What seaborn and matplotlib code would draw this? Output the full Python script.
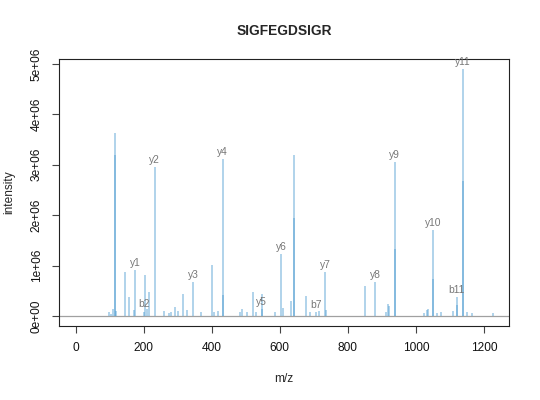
import matplotlib
matplotlib.use("Agg")
import matplotlib.pyplot as plt
import seaborn as sns

# peak list (m/z, intensity)
mz = [99, 104, 110.7, 115, 115.3, 119.5, 145, 157.8, 172.5, 175.1, 201.1, 204,
      211, 214.6, 232.1, 259.7, 274, 280, 292, 302, 316.5, 326, 345.2, 370,
      402, 407, 417.6, 432.3, 432.6, 483, 488, 505, 520.6, 529, 547.3, 549,
      587, 604.3, 608, 632, 641, 641.3, 678, 689, 706.3, 716, 733.4, 737,
      851, 880.4, 912, 919, 922, 937.4, 937.7, 1023.5, 1031, 1035, 1050.5,
      1050.8, 1062, 1074, 1109, 1119.5, 1121, 1137.6, 1137.9, 1149, 1164.7, 1226.5]
intensity = [0.09e6, 0.05e6, 0.15e6, 3.63e6, 3.19e6, 0.10e6, 0.88e6, 0.38e6, 0.12e6, 0.91e6, 0.09e6, 0.81e6,
             0.15e6, 0.48e6, 2.96e6, 0.11e6, 0.07e6, 0.08e6, 0.18e6, 0.10e6, 0.44e6, 0.12e6, 0.67e6, 0.09e6,
             1.01e6, 0.09e6, 0.10e6, 3.11e6, 0.42e6, 0.09e6, 0.14e6, 0.08e6, 0.47e6, 0.08e6, 0.14e6, 0.44e6,
             0.09e6, 1.23e6, 0.17e6, 0.30e6, 3.19e6, 1.95e6, 0.40e6, 0.08e6, 0.08e6, 0.10e6, 0.87e6, 0.12e6,
             0.60e6, 0.67e6, 0.08e6, 0.24e6, 0.20e6, 3.06e6, 1.34e6, 0.07e6, 0.12e6, 0.14e6, 1.71e6,
             0.73e6, 0.07e6, 0.09e6, 0.10e6, 0.38e6, 0.22e6, 4.90e6, 2.67e6, 0.09e6, 0.07e6, 0.06e6]

# annotated fragment ions
ion_labels = ["y1", "b2", "y2", "y3", "y4", "y5", "y6", "b7", "y7", "y8", "y9", "y10", "b11", "y11"]
ion_mz = [175.1, 201.1, 232.1, 345.2, 432.3, 547.3, 604.3, 706.3, 733.4, 880.4, 937.4, 1050.5, 1119.5, 1137.6]
ion_int = [0.91e6, 0.09e6, 2.96e6, 0.67e6, 3.11e6, 0.14e6, 1.23e6, 0.08e6, 0.87e6, 0.67e6, 3.06e6, 1.71e6, 0.38e6, 4.90e6]

x_ticks = [0, 200, 400, 600, 800, 1000, 1200]
y_ticks = [0, 1e6, 2e6, 3e6, 4e6, 5e6]
y_tick_labels = ["0e+00", "1e+06", "2e+06", "3e+06", "4e+06", "5e+06"]

sns.set_theme(style="ticks")
plt.rcParams["font.family"] = ["Liberation Sans", "DejaVu Sans"]

fig = plt.figure(figsize=(5.4, 4), dpi=100)
ax = fig.add_axes([0.109, 0.185, 0.834, 0.6675])

ax.axhline(0, color="#a0a0a0", lw=0.9, zorder=1)
ax.vlines(mz, 0, intensity, color="#4a9bd0", alpha=0.55, lw=1.1, zorder=2)

for lab, x, y in zip(ion_labels, ion_mz, ion_int):
    ax.annotate(lab, (x, y), xytext=(0, 1.5), textcoords="offset points",
                ha="center", va="bottom", fontsize=7.4, color="#777777")

ax.set_xlim(-49, 1274)
ax.set_ylim(-0.196e6, 5.096e6)
ax.set_xticks(x_ticks)
ax.set_yticks(y_ticks)
ax.set_yticklabels(y_tick_labels, rotation=90, va="center")

for s in ax.spines.values():
    s.set_color("#222222")
    s.set_linewidth(0.8)
ax.tick_params(axis="both", length=5, width=0.8, color="#444444", pad=6.5,
               labelsize=8.6, labelcolor="#111111")

ax.set_xlabel("m/z", fontsize=8.6, labelpad=14)
ax.set_ylabel("intensity", fontsize=8.6, labelpad=11)
ax.set_title("SIGFEGDSIGR", fontsize=9.9, fontweight="bold", pad=17)

fig.savefig("out.png", dpi=100)
